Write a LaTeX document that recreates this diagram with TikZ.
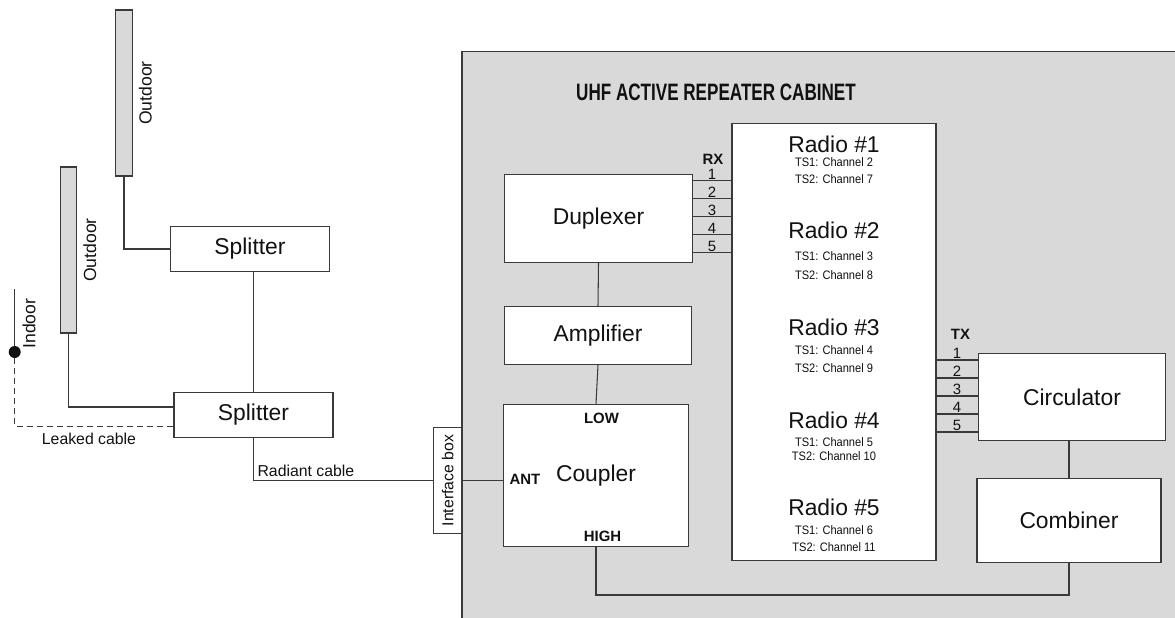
\documentclass[tikz,border=0pt]{standalone}
\usepackage{fontspec}
\setmainfont{Liberation Sans}
\newfontfamily\narrowsans[FakeStretch=0.72]{Liberation Sans}
\newfontfamily\tsfont[FakeStretch=0.9]{Liberation Sans}
\usetikzlibrary{calc}
\definecolor{rpcabfill}{HTML}{D9D9D9}
\definecolor{rpline}{HTML}{3A3A3A}
\definecolor{rpink}{HTML}{111111}

\begin{document}
\begin{tikzpicture}[
    every node/.style={text=rpink},
    unit/.style   ={rectangle, draw=rpline, fill=white, line width=0.6pt, inner sep=0pt,
                    font=\fontsize{13}{15}\selectfont},
    antenna/.style={rectangle, draw=rpline, fill=rpcabfill, line width=0.6pt,
                    minimum width=0.33cm, minimum height=3.32cm},
    wire/.style={draw=rpline, line width=0.6pt},
    leak/.style={wire, dash pattern=on 3.4pt off 2.3pt},
    dot/.style={circle, fill=rpink, inner sep=0pt, minimum size=0.24cm},
    lbl/.style={font=\fontsize{9}{11}\selectfont},
    lblr/.style={font=\fontsize{10}{12}\selectfont, rotate=90},
    port/.style={font=\bfseries\fontsize{8.5}{10}\selectfont},
    pin/.style={font=\fontsize{8.5}{10}\selectfont, inner sep=0.4pt},
    radiotxt/.style={font=\fontsize{13}{15}\selectfont},
    tstxt/.style={font=\tsfont\fontsize{7}{8}\selectfont},
    title/.style={font=\narrowsans\bfseries\fontsize{13.5}{16}\selectfont},
  ]

  \useasboundingbox (0,0) rectangle (23.5,-12.34);

  \draw[rpline, line width=0.6pt, fill=rpcabfill] (9.24,-1.03) rectangle (23.9,-12.7);
  \node[title] (title) at (14.32,-1.85) {UHF ACTIVE REPEATER CABINET};

  \node[antenna] (ant1) at (2.48,-1.86) {};
  \node[antenna] (ant2) at (1.37,-5.00) {};
  \node[lblr, anchor=north] (out1) at (ant1.east) {Outdoor};
  \node[lblr, anchor=north] (out2) at (ant2.east) {Outdoor};

  \node[unit, minimum width=3.18cm, minimum height=0.91cm] (spl1) at (5.00,-4.98) {Splitter};
  \node[unit, minimum width=3.18cm, minimum height=0.91cm] (spl2) at (5.07,-8.30) {Splitter};

  \coordinate (intop) at (0.294,-5.78);
  \node[dot] (indot) at (0.294,-7.04) {};
  \node[lblr] (indoor) at (0.58,-6.47) {Indoor};
  \node[lbl] (leaked) at (1.78,-8.78) {Leaked cable};

  \node[unit, minimum width=0.57cm, minimum height=2.11cm, font=\fontsize{9}{11}\selectfont]
    (ifbox) at (8.955,-9.61) {\rotatebox{90}{Interface box}};

  \draw[wire] (intop) -- (indot);
  \draw[leak] (indot) |- ([yshift=-0.23cm]spl2.west);
  \draw[wire] (ant1.south) |- (spl1.west);
  \draw[wire] (ant2.south) |- ([yshift=0.16cm]spl2.west);
  \draw[wire] (spl2.north) -- (spl2.north |- spl1.south);
  \draw[wire] (spl2.south) |- (ifbox.west)
    node[lbl, pos=0.5, anchor=south west, inner sep=2pt] {Radiant cable};

  \node[unit, minimum width=3.75cm, minimum height=1.76cm] (dup) at (11.97,-4.37) {Duplexer};
  \node[unit, minimum width=3.73cm, minimum height=1.15cm] (amp) at (11.96,-6.71) {Amplifier};
  \node[unit, minimum width=3.71cm, minimum height=2.85cm] (coup) at (11.92,-9.51) {Coupler};
  \node[port] (low)  at (12.03,-8.37)  {LOW};
  \node[port] (ant)  at (10.50,-9.59)  {ANT};
  \node[port] (high) at (12.05,-10.72) {HIGH};

  \node[unit, minimum width=4.08cm, minimum height=8.75cm] (radio) at (16.68,-6.84) {};
  \node[radiotxt] (r1)  at (16.68,-2.88)  {Radio \#1};
  \node[tstxt]    (r1a) at (16.68,-3.24)  {TS1: Channel 2};
  \node[tstxt]    (r1b) at (16.68,-3.59)  {TS2: Channel 7};
  \node[radiotxt] (r2)  at (16.68,-4.61)  {Radio \#2};
  \node[tstxt]    (r2a) at (16.68,-5.13)  {TS1: Channel 3};
  \node[tstxt]    (r2b) at (16.68,-5.50)  {TS2: Channel 8};
  \node[radiotxt] (r3)  at (16.68,-6.55)  {Radio \#3};
  \node[tstxt]    (r3a) at (16.68,-7.00)  {TS1: Channel 4};
  \node[tstxt]    (r3b) at (16.68,-7.36)  {TS2: Channel 9};
  \node[radiotxt] (r4)  at (16.68,-8.40)  {Radio \#4};
  \node[tstxt]    (r4a) at (16.68,-8.84)  {TS1: Channel 5};
  \node[tstxt]    (r4b) at (16.68,-9.12)  {TS2: Channel 10};
  \node[radiotxt] (r5)  at (16.68,-10.15) {Radio \#5};
  \node[tstxt]    (r5a) at (16.68,-10.60) {TS1: Channel 6};
  \node[tstxt]    (r5b) at (16.68,-10.95) {TS2: Channel 11};

  \node[unit, minimum width=3.75cm, minimum height=1.75cm] (circ) at (21.44,-7.94)  {Circulator};
  \node[unit, minimum width=3.68cm, minimum height=1.67cm] (comb) at (21.38,-10.41) {Combiner};

  \draw[wire] (ifbox.east) -- (ifbox.east -| coup.west);
  \draw[wire] (dup.south) -- (amp.north);
  \draw[wire] (amp.south) -- (coup.north);
  \draw[wire] (comb.north) -- (comb.north |- circ.south);
  \coordinate (loopy) at (0,-11.90);
  \draw[wire] (coup.south) |- (loopy -| comb.south) -- (comb.south);

  \node[port] (rxlbl) at (14.26,-3.18) {RX};
  \coordinate (rx1) at (0,-3.61);
  \coordinate (rx2) at (0,-3.97);
  \coordinate (rx3) at (0,-4.33);
  \coordinate (rx4) at (0,-4.69);
  \coordinate (rx5) at (0,-5.05);
  \draw[wire] (rx1 -| dup.east) -- (rx1 -| radio.west) node[pin, midway, above] {1};
  \draw[wire] (rx2 -| dup.east) -- (rx2 -| radio.west) node[pin, midway, above] {2};
  \draw[wire] (rx3 -| dup.east) -- (rx3 -| radio.west) node[pin, midway, above] {3};
  \draw[wire] (rx4 -| dup.east) -- (rx4 -| radio.west) node[pin, midway, above] {4};
  \draw[wire] (rx5 -| dup.east) -- (rx5 -| radio.west) node[pin, midway, above] {5};

  \node[port] (txlbl) at (19.21,-6.68) {TX};
  \coordinate (tx1) at (0,-7.20);
  \coordinate (tx2) at (0,-7.56);
  \coordinate (tx3) at (0,-7.92);
  \coordinate (tx4) at (0,-8.28);
  \coordinate (tx5) at (0,-8.64);
  \draw[wire] (tx1 -| radio.east) -- (tx1 -| circ.west) node[pin, midway, above] {1};
  \draw[wire] (tx2 -| radio.east) -- (tx2 -| circ.west) node[pin, midway, above] {2};
  \draw[wire] (tx3 -| radio.east) -- (tx3 -| circ.west) node[pin, midway, above] {3};
  \draw[wire] (tx4 -| radio.east) -- (tx4 -| circ.west) node[pin, midway, above] {4};
  \draw[wire] (tx5 -| radio.east) -- (tx5 -| circ.west) node[pin, midway, above] {5};

\end{tikzpicture}
\end{document}
